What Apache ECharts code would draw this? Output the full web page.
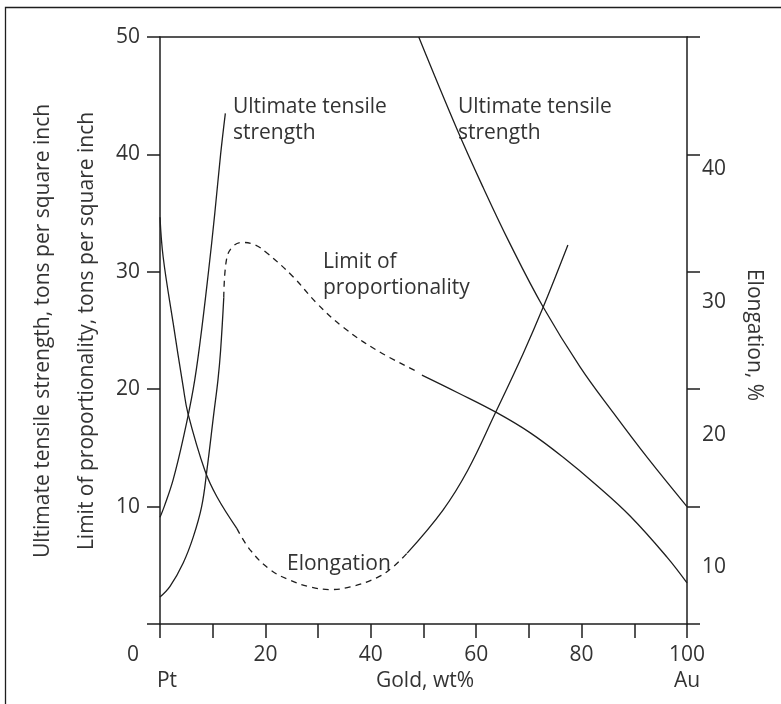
<!DOCTYPE html>
<html>
<head>
<meta charset="utf-8">
<script src="https://cdn.jsdelivr.net/npm/echarts@6/dist/echarts.min.js"></script>
<style>
html,body{margin:0;padding:0;background:#fff;}
#chart{width:781px;height:704px;}
</style>
</head>
<body>
<div id="chart"></div>
<script>
// ---- data (x = Gold wt%, y = tons per square inch / elongation %) ----
const xTickLabels = [20, 40, 60, 80, 100];
const leftTickLabels = [10, 20, 30, 40, 50];
const rightTickLabels = [10, 20, 30, 40];

const utsPt = [[0,9.1],[0.8,10.0],[2.5,12.3],[4.5,16.0],[6.3,20.0],[7.6,24.0],[9.2,30.0],[10.4,35.0],[11.5,40.0],[12.4,43.5]];
const utsAu = [[49.1,50],[56.4,42.1],[61.3,37.2],[66.4,32.4],[72.7,27.0],[79.7,21.9],[86.0,18.0],[92.6,14.1],[100,10.0]];

const lopSolidPt = [[0,2.3],[1.9,3.2],[4.4,5.2],[6.3,7.4],[7.9,10.0],[8.9,13.1],[10.2,17.9],[11.0,20.8],[11.5,23.3],[12.1,27.8]];
const lopDashed = [[12.1,27.8],[12.6,31.0],[13.7,32.1],[15.6,32.5],[18.0,32.3],[20.3,31.6],[25.2,29.6],[29.8,27.3],[34.7,25.3],[41.2,23.3],[48.8,21.5]];
const lopSolidAu = [[49.7,21.2],[56.5,19.7],[63.9,18.0],[70.2,16.3],[76.5,14.2],[82.9,11.8],[89.2,9.2],[96.2,5.7],[100,3.5]];

const elongSolidPt = [[0,36.4],[0.6,33.4],[2.5,28.4],[4.4,23.6],[5.3,21.6],[8.5,17.3],[10.8,15.3],[14.6,12.9]];
const elongDashed = [[14.6,12.9],[17.1,11.3],[20.9,9.8],[24.7,9.0],[28.5,8.5],[32.3,8.3],[36.1,8.5],[41.2,9.2],[44.2,10.0],[46.9,11.05]];
const elongSolidAu = [[46.9,11.05],[53.7,14.3],[58.4,17.3],[63.6,21.6],[68.9,26.1],[72.7,29.6],[77.4,34.3]];

const FONT = '"Open Sans", "DejaVu Sans", sans-serif';
const FS = 21;
const TXT = '#333';
const LINE = '#1e1e1e';

const chart = echarts.init(document.getElementById('chart'), null, {renderer:'canvas'});

function curve(data, yIdx, dashed) {
  return {
    type: 'line', data: data, yAxisIndex: yIdx, xAxisIndex: 0,
    smooth: 0.4, showSymbol: false, symbol: 'none', silent: true,
    lineStyle: { color: LINE, width: 1.3, type: dashed ? [6, 5] : 'solid' },
    z: 3
  };
}

function txt(x, y, s, opts) {
  return Object.assign({
    type: 'text', x: x, y: y,
    style: Object.assign({ text: s, fill: TXT, font: FS + 'px ' + FONT, textAlign: 'left', textVerticalAlign: 'middle' }, (opts && opts.style) || {})
  }, (opts && opts.el) || {});
}

const option = {
  animation: false,
  backgroundColor: '#fff',
  textStyle: { fontFamily: FONT },
  grid: { left: 160, top: 37, width: 527, height: 587, containLabel: false },
  xAxis: [
    {
      type: 'value', min: 0, max: 100, interval: 10, position: 'bottom',
      axisLine: { show: true, onZero: false, lineStyle: { color: LINE, width: 1.5 } },
      axisTick: { show: true, inside: false, length: 14, lineStyle: { color: LINE, width: 1.5 } },
      axisLabel: { margin: 21, fontSize: FS, color: TXT, fontFamily: FONT,
        formatter: v => xTickLabels.indexOf(v) >= 0 ? String(v) : '' },
      splitLine: { show: false }
    },
    {
      type: 'value', min: 0, max: 100, position: 'top',
      axisLine: { show: true, onZero: false, lineStyle: { color: LINE, width: 1.5 } },
      axisTick: { show: false }, axisLabel: { show: false }, splitLine: { show: false }
    }
  ],
  yAxis: [
    {
      type: 'value', min: 0, max: 50, interval: 10, position: 'left',
      axisLine: { show: true, onZero: false, lineStyle: { color: LINE, width: 1.5 } },
      axisTick: { show: true, inside: false, length: 13, lineStyle: { color: LINE, width: 1.5 } },
      axisLabel: { margin: 20, fontSize: FS, color: TXT, fontFamily: FONT,
        formatter: v => leftTickLabels.indexOf(v) >= 0 ? String(v) : '' },
      splitLine: { show: false }
    },
    {
      type: 'value', min: 0, max: 50, interval: 10, position: 'right',
      axisLine: { show: true, onZero: false, lineStyle: { color: LINE, width: 1.5 } },
      axisTick: { show: true, inside: false, length: 13, lineStyle: { color: LINE, width: 1.5 } },
      axisLabel: { show: false }, splitLine: { show: false }
    },
    {
      type: 'value', min: 5.7, max: 50, position: 'right',
      axisLine: { show: false }, axisTick: { show: false }, splitLine: { show: false },
      axisLabel: { show: true, margin: 15, fontSize: FS, color: TXT, fontFamily: FONT,
        customValues: rightTickLabels }
    }
  ],
  series: [
    curve(utsPt, 0, false),
    curve(utsAu, 0, false),
    curve(lopSolidPt, 0, false),
    curve(lopDashed, 0, true),
    curve(lopSolidAu, 0, false),
    curve(elongSolidPt, 2, false),
    curve(elongDashed, 2, true),
    curve(elongSolidAu, 2, false)
  ],
  graphic: [
    { type: 'polyline', shape: { points: [[5.5, 704], [5.5, 7.5], [781, 7.5]] },
      style: { stroke: LINE, lineWidth: 1.3, fill: null }, silent: true },
    txt(233, 107, 'Ultimate tensile'),
    txt(233, 133, 'strength'),
    txt(458, 107, 'Ultimate tensile'),
    txt(458, 133, 'strength'),
    txt(323, 262, 'Limit of'),
    txt(323, 288, 'proportionality'),
    txt(287, 564, 'Elongation'),
    txt(133, 655, '0', { style: { textAlign: 'center' } }),
    txt(167, 681, 'Pt', { style: { textAlign: 'center' } }),
    txt(425, 681, 'Gold, wt%', { style: { textAlign: 'center' } }),
    txt(687, 681, 'Au', { style: { textAlign: 'center' } }),
    txt(43, 331, 'Ultimate tensile strength, tons per square inch', { style: { textAlign: 'center' }, el: { rotation: Math.PI / 2 } }),
    txt(87, 331, 'Limit of proportionality, tons per square inch', { style: { textAlign: 'center' }, el: { rotation: Math.PI / 2 } }),
    txt(754, 335, 'Elongation, %', { style: { textAlign: 'center' }, el: { rotation: -Math.PI / 2 } })
  ]
};
chart.setOption(option);
</script>
</body>
</html>
